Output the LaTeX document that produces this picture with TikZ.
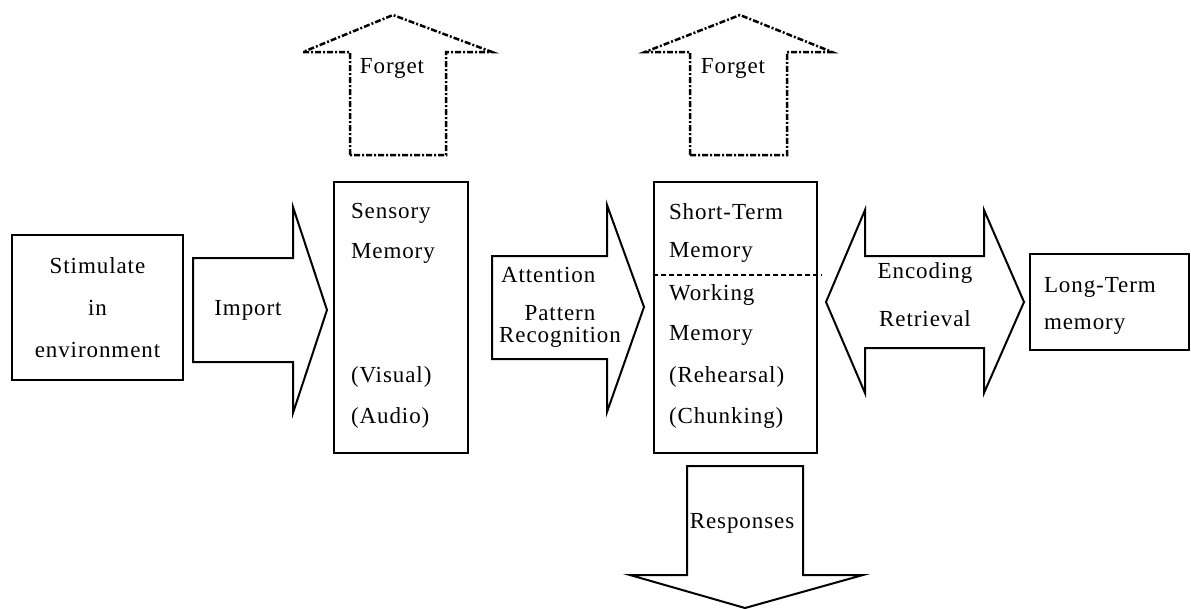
\documentclass[tikz,border=0pt]{standalone}
\usepackage{fontspec}
\setmainfont{Liberation Serif}[LetterSpace=4]
\usepackage{tikz}
\usetikzlibrary{positioning}
\tikzset{every picture/.style={line width=2pt}}

\begin{document}
\begin{tikzpicture}[x=1pt,y=-1pt,font=\fontsize{23}{42}\selectfont,
        box/.style={draw, inner sep=0pt},
        blockarrow/.style={draw, line join=miter},
        forgetarrow/.style={draw, line width=2.5pt, dash pattern=on 6pt off 2pt on 2pt off 2pt},
        txt/.style={inner sep=0pt, anchor=west},
        ctxt/.style={inner sep=0pt}]
    \useasboundingbox (0,0) rectangle (1191,608);
    % boxes
    \node[box, minimum width=171, minimum height=145, align=center] (stim) at (97.5,307.5) {Stimulate\\in\\environment};
    \node[box, minimum width=134, minimum height=271] (sensory) at (401,317.5) {};
    \node[box, minimum width=163, minimum height=271] (stm) at (735.5,317.5) {};
    \node[box, minimum width=159, minimum height=96] (ltm) at (1109.5,302) {};
    \draw[line width=2.5pt, dash pattern=on 5pt off 3pt] (stm.west |- 0,275) -- (822,275);
    % texts in boxes
    \node[txt] (sens1) at (350,213) {Sensory};
    \node[txt] (sens2) at (350,253) {Memory};
    \node[txt] (sens3) at (350,377) {(Visual)};
    \node[txt] (sens4) at (350,418) {(Audio)};
    \node[txt] (stm1) at (668,212) {Short-Term};
    \node[txt] (stm2) at (668,252) {Memory};
    \node[txt] (stm3) at (668,295) {Working};
    \node[txt] (stm4) at (668,335) {Memory};
    \node[txt] (stm5) at (668,377) {(Rehearsal)};
    \node[txt] (stm6) at (668,418) {(Chunking)};
    \node[txt] (ltm1) at (1043,287) {Long-Term};
    \node[txt] (ltm2) at (1043,327) {memory};
    % block arrows
    \draw[blockarrow] (193,258) -- (293,258) -- (293,207) -- (327,310) -- (293,413) -- (293,362) -- (193,362) -- cycle;
    \node[ctxt] (import) at (248,310) {Import};
    \draw[blockarrow] (492,256) -- (607,256) -- (607,205) -- (644,307) -- (607,412) -- (607,359) -- (492,359) -- cycle;
    \node[txt] (attn) at (500,275) {Attention};
    \node[ctxt, align=center, font=\fontsize{23}{22}\selectfont] (patt) at (560,326) {Pattern\\Recognition};
    \draw[blockarrow] (826,302) -- (865,210) -- (865,256) -- (984,256) -- (984,210) -- (1024,302)
        -- (984,393) -- (984,348) -- (865,348) -- (865,393) -- cycle;
    \node[ctxt] (enc) at (925,273) {Encoding};
    \node[ctxt] (retr) at (925,319) {Retrieval};
    \draw[blockarrow] (687,466) -- (803,466) -- (803,575) -- (863,575) -- (745,608) -- (630,575) -- (687,575) -- cycle;
    \node[ctxt] (resp) at (742,523) {Responses};
    % forget arrows
    \draw[forgetarrow] (350,155) -- (350,52) -- (303,52) -- (393,15) -- (492,52) -- (446,52) -- (446,155) -- cycle;
    \node[ctxt] (forget1) at (392,68) {Forget};
    \draw[forgetarrow] (690,155) -- (690,52) -- (645,52) -- (740,15) -- (832,52) -- (787,52) -- (787,155) -- cycle;
    \node[ctxt] (forget2) at (733,68) {Forget};
\end{tikzpicture}
\end{document}
